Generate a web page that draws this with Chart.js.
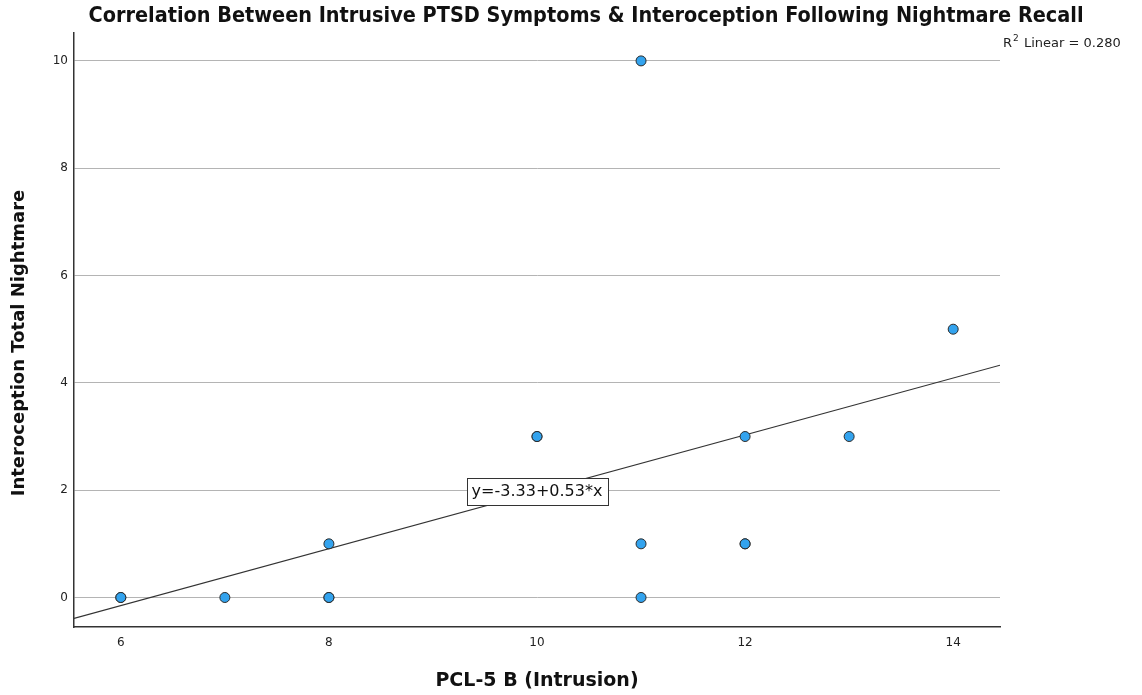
<!DOCTYPE html>
<html>
<head>
<meta charset="utf-8">
<script src="https://cdn.jsdelivr.net/npm/chart.js@4.4.1/dist/chart.umd.min.js"></script>
<style>
html,body{margin:0;padding:0;background:#fff;}
#wrap{width:1142px;height:695px;}
</style>
</head>
<body>
<div id="wrap"><canvas id="c" width="1142" height="695"></canvas></div>
<script>
// ---- data ----
const chartTitle = "Correlation Between Intrusive PTSD Symptoms & Interoception Following Nightmare Recall";
const xAxisTitle = "PCL-5 B (Intrusion)";
const yAxisTitle = "Interoception Total Nightmare";
const pclIntrusion = [6, 6, 7, 8, 8, 8, 10, 10, 11, 11, 11, 12, 12, 12, 13, 14];
const interoception = [0, 0, 0, 0, 0, 1, 3, 3, 10, 1, 0, 3, 1, 1, 3, 5];
const xTicks = [6, 8, 10, 12, 14];
const yTicks = [0, 2, 4, 6, 8, 10];
const fitIntercept = -3.33;
const fitSlope = 0.53;
const fitLabel = "y=-3.33+0.53*x";
const r2Label = "Linear = 0.280";
const xRange = [5.55, 14.45];
const yRange = [-0.55, 10.52];

const points = pclIntrusion.map((x, i) => ({x: x, y: interoception[i]}));
const fitLine = xRange.map(x => ({x: x, y: fitIntercept + fitSlope * x}));

const overlay = {
  id: 'overlay',
  afterDraw(chart) {
    const ctx = chart.ctx;
    const xs = chart.scales.x, ys = chart.scales.y;
    ctx.save();
    // title (fit to the reference width)
    ctx.fillStyle = '#111';
    ctx.textBaseline = 'middle';
    ctx.textAlign = 'center';
    ctx.font = 'bold 21px "DejaVu Sans Condensed", "Liberation Sans Narrow", sans-serif';
    const tw = ctx.measureText(chartTitle).width;
    const sx = 995 / tw;
    ctx.save();
    ctx.translate(586, 17);
    ctx.scale(sx, 1);
    ctx.fillText(chartTitle, 0, 0);
    ctx.restore();
    // y axis title
    ctx.save();
    ctx.translate(19, 343);
    ctx.rotate(-Math.PI / 2);
    ctx.font = 'bold 18px "DejaVu Sans", sans-serif';
    ctx.fillStyle = '#111';
    ctx.fillText(yAxisTitle, 0, 0);
    ctx.restore();
    // R2 label
    ctx.textAlign = 'left';
    ctx.fillStyle = '#222';
    ctx.font = '13px "DejaVu Sans", sans-serif';
    ctx.fillText('R', 1003, 44);
    ctx.font = '9px "DejaVu Sans", sans-serif';
    ctx.fillText('2', 1013, 39);
    ctx.font = '13px "DejaVu Sans", sans-serif';
    ctx.fillText(r2Label, 1024, 44);
    // fit label box
    const cx = xs.getPixelForValue(10), cy = ys.getPixelForValue(1.98);
    ctx.font = '16px "DejaVu Sans", sans-serif';
    const w = ctx.measureText(fitLabel).width + 10;
    const h = 27;
    const bx = Math.round(cx - w / 2) + 0.5, by = Math.round(cy - h / 2) + 0.5;
    ctx.fillStyle = '#fff';
    ctx.fillRect(bx, by, Math.round(w), h);
    ctx.strokeStyle = '#333';
    ctx.lineWidth = 1;
    ctx.strokeRect(bx, by, Math.round(w), h);
    ctx.fillStyle = '#111';
    ctx.textAlign = 'center';
    ctx.fillText(fitLabel, cx, cy + 1);
    ctx.restore();
  }
};

new Chart(document.getElementById('c'), {
  type: 'scatter',
  data: {
    datasets: [
      {
        type: 'line',
        data: fitLine,
        borderColor: '#333',
        borderWidth: 1.2,
        pointRadius: 0,
        fill: false,
        order: 2
      },
      {
        type: 'scatter',
        data: points,
        backgroundColor: '#33a3ee',
        borderColor: '#2a2a2a',
        borderWidth: 1,
        pointRadius: 5,
        order: 1
      }
    ]
  },
  options: {
    responsive: false,
    animation: false,
    devicePixelRatio: 1,
    layout: {padding: {top: 33, right: 142, left: 0, bottom: 0}},
    plugins: {legend: {display: false}, tooltip: {enabled: false}, title: {display: false}},
    scales: {
      x: {
        type: 'linear',
        min: xRange[0], max: xRange[1],
        afterBuildTicks: s => { s.ticks = xTicks.map(v => ({value: v})); },
        afterFit: s => { s.height = 68; },
        grid: {display: false, drawTicks: false},
        border: {display: true, color: '#333', width: 1.5},
        ticks: {color: '#222', font: {family: '"DejaVu Sans", sans-serif', size: 12}, padding: 9, maxRotation: 0},
        title: {display: true, text: xAxisTitle, color: '#111',
          font: {family: '"DejaVu Sans", sans-serif', size: 19, weight: 'bold'}, padding: {top: 0, bottom: 3}}
      },
      y: {
        type: 'linear',
        min: yRange[0], max: yRange[1],
        afterBuildTicks: s => { s.ticks = yTicks.map(v => ({value: v})); },
        afterFit: s => { s.width = 74; },
        grid: {display: true, color: '#b4b4b4', lineWidth: 1, drawTicks: false},
        border: {display: true, color: '#333', width: 1.5},
        ticks: {color: '#222', font: {family: '"DejaVu Sans", sans-serif', size: 12}, padding: 6},
        title: {display: false}
      }
    }
  },
  plugins: [overlay]
});
</script>
</body>
</html>
